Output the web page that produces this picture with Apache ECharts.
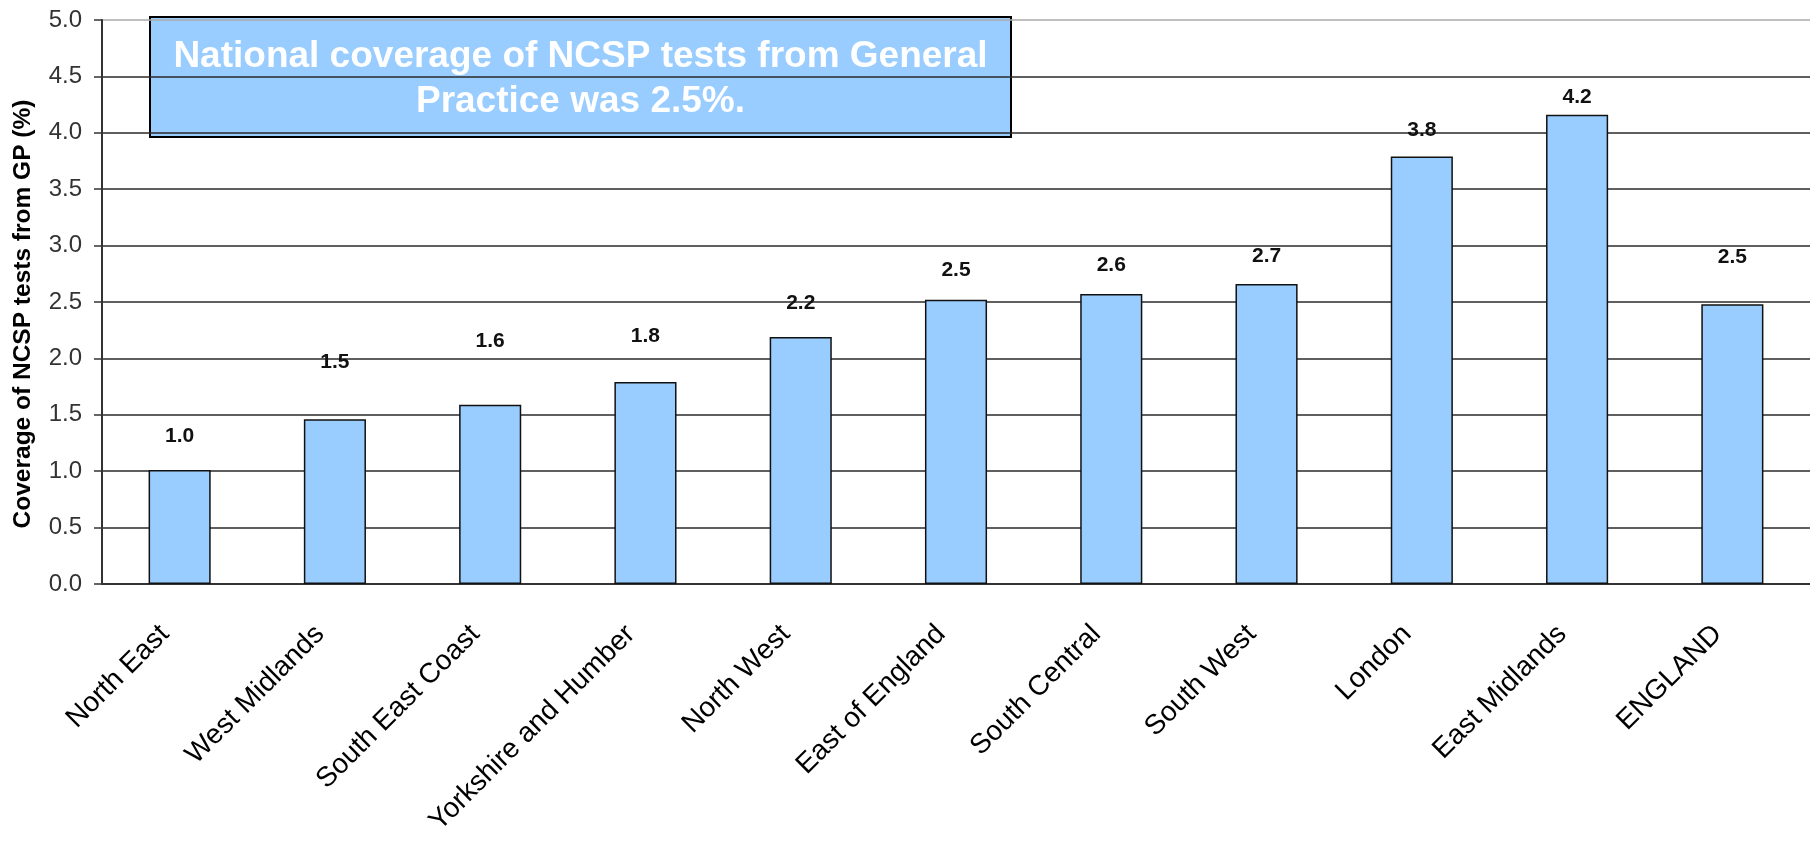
<!DOCTYPE html>
<html>
<head>
<meta charset="utf-8">
<title>NCSP coverage from GP</title>
<script src="https://cdn.jsdelivr.net/npm/echarts@6/dist/echarts.min.js"></script>
<style>
    html, body { margin: 0; padding: 0; background: #fff; }
    #main { width: 1810px; height: 843px; }
</style>
</head>
<body>
<div id="main"></div>
<script>
// regions, in chart order
var regions = ['North East', 'West Midlands', 'South East Coast', 'Yorkshire and Humber',
    'North West', 'East of England', 'South Central', 'South West', 'London',
    'East Midlands', 'ENGLAND'];
// coverage of NCSP tests from GP (%)
var coverage = [1.01, 1.46, 1.59, 1.79, 2.19, 2.52, 2.57, 2.66, 3.79, 4.16, 2.48];
var yTicks = [0, 0.5, 1, 1.5, 2, 2.5, 3, 3.5, 4, 4.5, 5];
var note = 'National coverage of NCSP tests from General\nPractice was 2.5%.';

// label lift above each bar (the labels sit unevenly in the original)
var labelGap = [23, 47, 53, 35, 23, 19, 18, 17, 16, 7, 37];

var font = "'Liberation Sans', Arial, sans-serif";
var chart = echarts.init(document.getElementById('main'));

var barData = coverage.map(function (v, i) {
    return { value: v, label: { distance: labelGap[i] } };
});

var gridColors = yTicks.map(function (t, i) {
    return i === yTicks.length - 1 ? '#aaa' : '#2a2a2a';
});

option = {
    animation: false,
    backgroundColor: '#fff',
    grid: {
        left: 102,
        top: 20,
        width: 1718,
        bottom: 259
    },
    xAxis: {
        type: 'category',
        data: regions,
        axisLine: { lineStyle: { color: '#333', width: 2 } },
        axisTick: { length: 10, lineStyle: { color: '#333', width: 1.5 } },
        axisLabel: {
            rotate: 45,
            margin: 31,
            padding: [0, 21, 0, 0],
            interval: 0,
            color: '#000',
            fontFamily: font,
            fontSize: 28
        }
    },
    yAxis: {
        type: 'value',
        min: yTicks[0],
        max: yTicks[yTicks.length - 1],
        interval: 0.5,
        name: 'Coverage of NCSP tests from GP (%)',
        nameLocation: 'middle',
        nameGap: 66,
        nameTextStyle: {
            fontFamily: font,
            fontSize: 24.5,
            fontWeight: 'bold',
            color: '#000',
            padding: [0, 24, 0, 0]
        },
        axisLine: { show: true, lineStyle: { color: '#333', width: 2 } },
        axisTick: { show: true, length: 8, lineStyle: { color: '#333', width: 1.5 } },
        axisLabel: {
            margin: 20,
            color: '#333',
            fontFamily: font,
            fontSize: 24,
            formatter: function (v) { return v.toFixed(1); }
        },
        splitLine: { lineStyle: { color: gridColors, width: 1.5 } }
    },
    series: [{
        type: 'bar',
        data: barData,
        barCategoryGap: '60%',
        itemStyle: {
            color: '#99CCFF',
            borderColor: '#111',
            borderWidth: 1.5
        },
        label: {
            show: true,
            position: 'top',
            color: '#111',
            fontFamily: font,
            fontSize: 21,
            fontWeight: 'bold',
            formatter: function (p) { return p.value.toFixed(1); }
        }
    }],
    graphic: [{
        type: 'group',
        z: 100,
        children: [{
            type: 'rect',
            shape: { x: 150, y: 17, width: 861, height: 120 },
            style: { fill: '#99CCFF', stroke: '#000', lineWidth: 2 }
        }, {
            type: 'text',
            x: 580.5,
            y: 79,
            style: {
                text: note,
                fill: '#fff',
                font: 'bold 37px ' + font,
                lineHeight: 45,
                align: 'center',
                verticalAlign: 'middle'
            }
        }]
    }]
};

chart.setOption(option);
window.addEventListener('resize', function () {
    chart.resize();
});
</script>
</body>
</html>
